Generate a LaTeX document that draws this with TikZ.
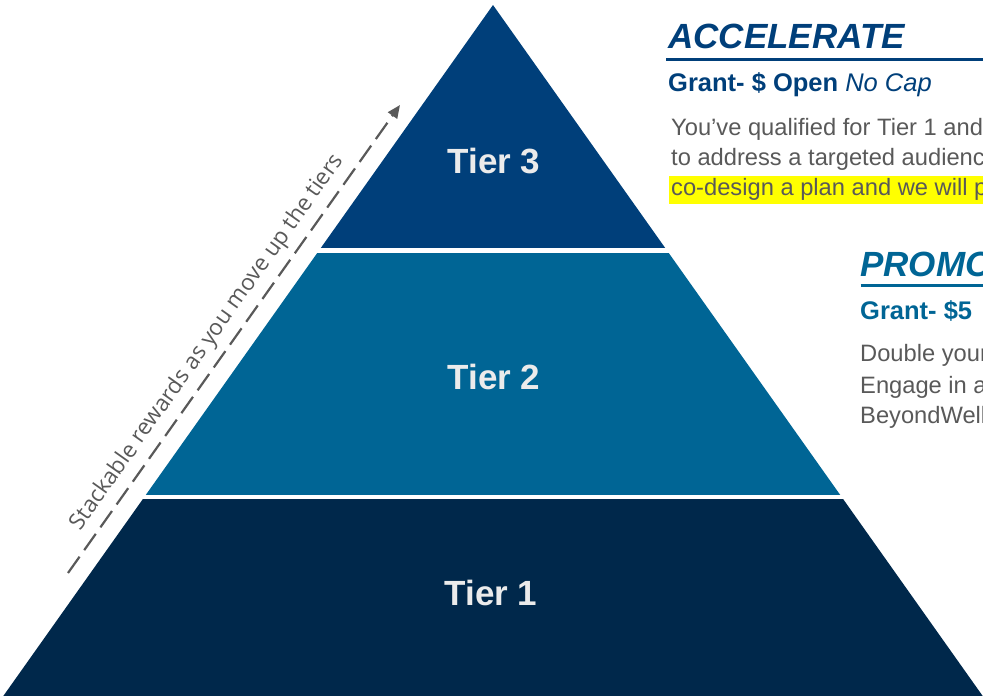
\documentclass[tikz,border=0pt]{standalone}
\usepackage{fontspec}
\setmainfont{Liberation Sans}
\newfontfamily\diagfont{Open Sans}
\usetikzlibrary{arrows.meta}
\definecolor{navyA}{RGB}{0,63,122}
\definecolor{tealB}{RGB}{0,101,149}
\definecolor{darkC}{RGB}{0,40,75}
\definecolor{bodygray}{RGB}{89,89,89}
\definecolor{labelgray}{RGB}{235,235,235}
\definecolor{hilite}{RGB}{255,255,0}
\tikzset{
  tierlabel/.style={inner sep=0pt, anchor=base, text=labelgray, font=\fontsize{35}{40}\selectfont\bfseries},
  headA/.style={inner sep=0pt, anchor=base west, text=navyA, font=\fontsize{35}{40}\selectfont\bfseries\itshape},
  headB/.style={inner sep=0pt, anchor=base west, text=tealB, font=\fontsize{35}{40}\selectfont\bfseries\itshape},
  granttext/.style={inner sep=0pt, anchor=base west, font=\fontsize{25.5}{30}\selectfont},
  bodytext/.style={inner sep=0pt, anchor=base west, text=bodygray, font=\fontsize{23.7}{28}\selectfont},
  rule/.style={line width=3.5pt},
  stackarrow/.style={draw=bodygray, line width=2.2pt, dash pattern=on 20pt off 8pt, -{Triangle[length=13pt,width=11pt]}},
}
\begin{document}
\begin{tikzpicture}[x=1pt,y=-1pt]
\useasboundingbox (0,0) rectangle (983,696);
\clip (0,0) rectangle (983,696);
\coordinate (apex) at (493,5);
\coordinate (bl) at (3.3,696);
\coordinate (br) at (982.7,696);
% tiers
\begin{scope}
  \clip (0,0) rectangle (983,247.5);
  \fill[navyA] (apex) -- (bl) -- (br) -- cycle;
\end{scope}
\begin{scope}
  \clip (0,253) rectangle (983,494);
  \fill[tealB] (apex) -- (bl) -- (br) -- cycle;
\end{scope}
\begin{scope}
  \clip (0,499) rectangle (983,700);
  \fill[darkC] (apex) -- (bl) -- (br) -- cycle;
\end{scope}
\node[tierlabel] (t3) at (494,173.3) {Tier 3};
\node[tierlabel] (t2) at (494,389.5) {Tier 2};
\node[tierlabel] (t1) at (491,605) {Tier 1};
% diagonal arrow and label
\coordinate (as) at (68,573);
\coordinate (ae) at (400,105);
\draw[stackarrow] (as) -- (ae);
\node[inner sep=0pt, anchor=base, rotate=54.65, text=bodygray, font=\diagfont\fontsize{22.6}{27}\selectfont] (stack) at (212,346) {Stackable rewards as you move up the tiers};
% ACCELERATE block
\node[headA] (acc) at (668,48.5) {ACCELERATE};
\coordinate (accl) at (666,59.5);
\coordinate (accr) at (983,59.5);
\draw[rule, navyA] (accl) -- (accr);
\node[granttext, text=navyA] (g3) at (668,91.7) {\bfseries Grant- \$ Open \mdseries\itshape No Cap};
\fill[hilite] (669,176) rectangle (983,204);
\node[bodytext] (b31) at (671,135) {You’ve qualified for Tier 1 and};
\node[bodytext] (b32) at (671,165) {to address a targeted audience};
\node[bodytext] (b33) at (671,195.5) {co-design a plan and we will p};
% PROMOTE block
\node[headB] (pro) at (860,276.7) {PROMOTE};
\coordinate (prol) at (860.5,285.7);
\coordinate (pror) at (983,285.7);
\draw[rule, tealB] (prol) -- (pror);
\node[granttext, text=tealB] (g2) at (860,319.3) {\bfseries Grant- \$5};
\node[bodytext] (b21) at (860,361.7) {Double your};
\node[bodytext] (b22) at (860,393.3) {Engage in a};
\node[bodytext] (b23) at (860,423.5) {BeyondWell};
\end{tikzpicture}
\end{document}
